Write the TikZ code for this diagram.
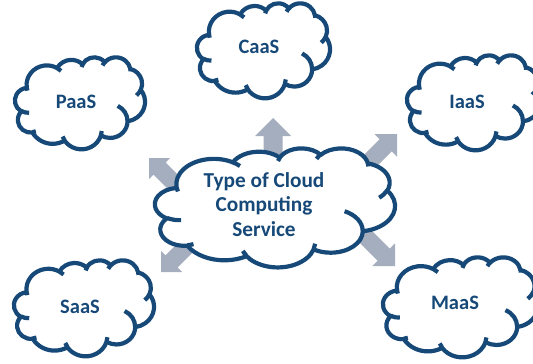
\documentclass[tikz,border=0pt]{standalone}
\usepackage{fontspec}
\setmainfont{Carlito}

\definecolor{cloudblue}{RGB}{22,73,120}
\definecolor{spokegray}{RGB}{165,174,190}

% angle on an ellipse (radii #2, #3) measured from its centre -> parametric angle
\pgfmathdeclarefunction{ooang}{3}{%
  \begingroup
  \pgfmathsetmacro\oodiff{atan2((#2)*sin(#1),(#3)*cos(#1))-(#1)}%
  \pgfmathparse{(#1)+(\oodiff)-360*round((\oodiff)/360)}%
  \pgfmathsmuggle\pgfmathresult
  \endgroup}

\tikzset{
  ooarc/.style n args={4}{x radius=#1, y radius=#2,
    start angle={ooang(#3,#1,#2)}, end angle={ooang(#3+#4,#1,#2)}},
  cloudline/.style={draw=cloudblue, line width=4.2pt, line join=round},
  cloudtext/.style={text=cloudblue, font=\bfseries\fontsize{20.5}{24.5}\selectfont,
    align=center, inner sep=0pt},
  hubtext/.style={cloudtext, font=\bfseries\fontsize{21.3}{24.5}\selectfont},
}

% cloud outline in a 43.2 x 43.2 unit box, placed at (#1,#2) with size #3 x #4
\newcommand\cloudat[4]{%
  \begin{scope}[shift={(#1,#2)}, xscale=#3/43.2, yscale=#4/43.2]
    \filldraw[cloudline, fill=white] (3.900,14.370)
      arc[ooarc={6.753}{9.190}{-190.4875}{123.7805}]
      arc[ooarc={5.333}{7.267}{-144.1024}{89.9452}]
      arc[ooarc={4.365}{5.945}{-145.8079}{99.7230}]
      arc[ooarc={4.857}{6.595}{-130.9861}{117.2417}]
      arc[ooarc={5.333}{7.273}{-78.7089}{109.0269}]
      arc[ooarc={6.775}{9.220}{-46.2673}{130.2690}]
      arc[ooarc={5.785}{7.867}{0.6250}{114.0333}]
      arc[ooarc={6.752}{9.215}{22.4516}{115.1726}]
      arc[ooarc={7.720}{10.543}{66.2426}{75.7110}]
      arc[ooarc={4.360}{5.918}{-274.9421}{146.7356}]
      arc[ooarc={4.345}{5.945}{-246.8285}{152.5189}]
      -- cycle;
    \draw[cloudline]
      (4.693,26.177)  arc[ooarc={4.345}{5.945}{86.7420}{26.4295}]
      (6.928,34.899)  arc[ooarc={4.360}{5.918}{73.6105}{11.4475}]
      (16.478,39.090) arc[ooarc={6.752}{9.215}{137.6242}{14.0811}]
      (28.827,34.751) arc[ooarc={6.752}{9.215}{6.4533}{15.9984}]
      (34.129,22.954) arc[ooarc={5.785}{7.867}{-70.2924}{70.9174}]
      (41.798,15.354) arc[ooarc={5.333}{7.273}{30.3180}{27.7515}]
      (38.324,5.426)  arc[ooarc={4.857}{6.595}{-13.7443}{14.8589}]
      (29.078,3.952)  arc[ooarc={4.857}{6.595}{-149.1815}{18.1954}]
      (22.141,4.720)  arc[ooarc={4.365}{5.945}{-163.4943}{17.6864}]
      (14.000,5.192)  arc[ooarc={6.753}{9.190}{-66.7070}{12.3194}]
      (4.127,15.789)  arc[ooarc={6.753}{9.190}{157.65}{11.86}];
  \end{scope}}

% block arrow with its tip at #1, pointing at angle #2; head size #3, half shaft #4
\newcommand\spoke[4]{%
  \fill[spokegray, shift={(#1)}, rotate=#2]
    (0,0) -- (-#3,#3) -- (-#3,#4) -- (-75,#4) -- (-75,-#4) -- (-#3,-#4) -- (-#3,-#3) -- cycle;}

\begin{document}
\begin{tikzpicture}[x=1pt, y=-1pt]
  \useasboundingbox (0,0) rectangle (533,364);
  \clip (0,0) rectangle (533,364);

  % arrow tips
  \coordinate (tipN)  at (273,118);
  \coordinate (tipNE) at (397,134);
  \coordinate (tipNW) at (149,158);
  \coordinate (tipSW) at (161,272);
  \coordinate (tipSE) at (395,266);

  \spoke{tipN}{90}{18}{9.5}
  \spoke{tipNE}{45}{16}{8.5}
  \spoke{tipNW}{135}{15}{8.5}
  \spoke{tipSW}{225}{15}{8.5}
  \spoke{tipSE}{-45}{16}{8.5}

  % clouds
  \cloudat{155}{148}{240}{119}
  \cloudat{197}{3}{133}{95}
  \cloudat{15}{57}{130}{92}
  \cloudat{407}{55}{134}{95}
  \cloudat{14}{260}{140}{96}
  \cloudat{383}{257}{155}{100}

  % labels
  \node[hubtext]   (hub)  at (264,204.5) {Type of Cloud\\Computing\\Service};
  \node[cloudtext] (caas) at (259,47)  {CaaS};
  \node[cloudtext] (paas) at (76,102)  {PaaS};
  \node[cloudtext] (iaas) at (467,102) {IaaS};
  \node[cloudtext] (saas) at (80,307)  {SaaS};
  \node[cloudtext] (maas) at (455,303) {MaaS};
\end{tikzpicture}
\end{document}
